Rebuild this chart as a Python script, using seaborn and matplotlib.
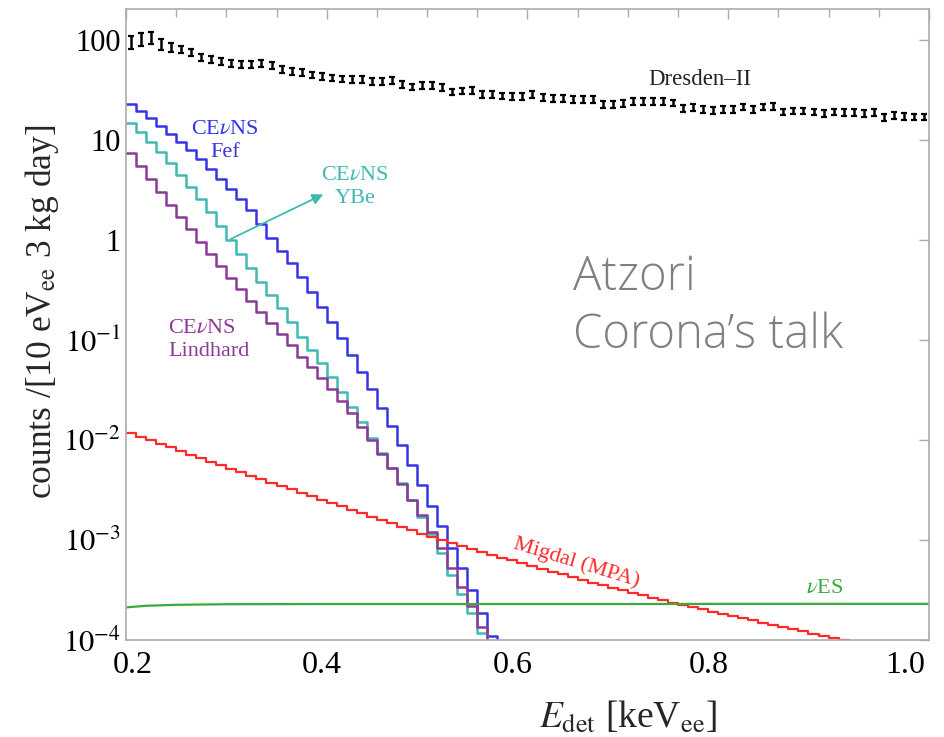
import numpy as np
import matplotlib
matplotlib.use('Agg')
import matplotlib.pyplot as plt
import seaborn as sns
from matplotlib.ticker import FixedLocator, MultipleLocator, FuncFormatter
from matplotlib.transforms import ScaledTranslation

# 10 eV_ee bins (left edges, keV_ee)
E_BINS = np.round(np.arange(0.20, 0.925, 0.01), 2)
# Dresden-II points sit at bin centres
E_DRESDEN = np.round(np.arange(0.205, 1.0, 0.01), 3)

DRESDEN = [96, 102, 106, 91, 85, 81, 76, 67, 64, 61,
           58, 57.5, 57.5, 59, 56, 51, 49, 48, 45, 43,
           42, 41, 40.7, 40.7, 38.9, 38.9, 39.8, 36.3, 34.1, 35.5,
           35.5, 33.6, 30.4, 31.1, 31.6, 28.6, 28.6, 27.7, 27.5, 27.5,
           28.8, 26.7, 26.1, 26.1, 25.7, 25.7, 25.7, 22.9, 22.9, 23.3,
           24.2, 24.2, 24.2, 24.5, 23.6, 20.7, 21.2, 20.4, 20.0, 20.4,
           20.2, 21.5, 20.2, 21.5, 21.9, 19.2, 19.6, 19.6, 19.2, 18.5,
           19.2, 18.8, 18.8, 18.5, 18.8, 16.9, 17.8, 17.4, 17.1, 17.1]
DRESDEN_ERR = [14, 15, 15, 12, 8, 7, 6.5, 5.5, 5, 5,
               4.6, 4.5, 4.5, 4.6, 4.4, 4, 3.9, 3.8, 3.5, 3.4,
               3.3, 3.2, 3.2, 3.2, 3.0, 3.0, 3.1, 2.8, 2.7, 2.8,
               2.8, 2.6, 2.4, 2.4, 2.5, 2.2, 2.2, 2.2, 2.1, 2.1,
               2.2, 2.1, 2.0, 2.0, 2.0, 2.0, 2.0, 1.8, 1.8, 1.8,
               1.9, 1.9, 1.9, 1.9, 1.8, 1.6, 1.6, 1.6, 1.6, 1.6,
               1.6, 1.7, 1.6, 1.7, 1.7, 1.5, 1.5, 1.5, 1.5, 1.4,
               1.5, 1.5, 1.5, 1.4, 1.5, 1.3, 1.4, 1.4, 1.3, 1.3]

CEVNS_FEF = [22.9, 19.5, 16.5, 13.9, 11.6, 9.62, 7.89, 6.41, 5.16, 4.12,
             3.26, 2.55, 1.98, 1.45, 1.06, 0.782, 0.589, 0.430, 0.304, 0.215,
             0.152, 0.106, 0.0708, 0.0482, 0.0324, 0.0210, 0.0139, 8.91e-3, 5.62e-3, 3.55e-3,
             2.20e-3, 1.38e-3, 8.26e-4, 5.21e-4, 3.16e-4, 1.86e-4, 1.10e-4, 6.3e-5]
CEVNS_YBE = [15.0, 12.1, 9.59, 7.53, 5.85, 4.49, 3.40, 2.55, 1.89, 1.39,
             1.00, 0.724, 0.521, 0.383, 0.282, 0.207, 0.152, 0.108, 0.0794, 0.0585,
             0.0424, 0.0302, 0.0215, 0.0152, 0.0106, 7.46e-3, 5.21e-3, 3.69e-3, 2.51e-3, 1.71e-3,
             1.15e-3, 7.36e-4, 4.47e-4, 2.88e-4, 1.85e-4, 1.17e-4, 7.1e-5]
CEVNS_LINDHARD = [7.41, 5.50, 4.07, 3.03, 2.27, 1.70, 1.28, 0.964, 0.728, 0.552,
                  0.421, 0.322, 0.248, 0.192, 0.147, 0.115, 0.0891, 0.0681, 0.0541, 0.0417,
                  0.0324, 0.0247, 0.0186, 0.0136, 0.0100, 7.24e-3, 5.21e-3, 3.63e-3, 2.51e-3, 1.78e-3,
                  1.21e-3, 8.26e-4, 5.21e-4, 3.37e-4, 2.19e-4, 1.36e-4, 8.7e-5]
MIGDAL = [1.175e-2, 1.081e-2, 9.95e-3, 9.16e-3, 8.43e-3, 7.76e-3, 7.14e-3, 6.58e-3, 6.05e-3, 5.57e-3,
          5.13e-3, 4.74e-3, 4.39e-3, 4.06e-3, 3.75e-3, 3.47e-3, 3.21e-3, 2.96e-3, 2.74e-3, 2.54e-3,
          2.34e-3, 2.17e-3, 2.00e-3, 1.85e-3, 1.71e-3, 1.58e-3, 1.47e-3, 1.36e-3, 1.25e-3, 1.16e-3,
          1.07e-3, 1.00e-3, 9.33e-4, 8.71e-4, 8.13e-4, 7.59e-4, 7.11e-4, 6.67e-4, 6.25e-4, 5.86e-4,
          5.50e-4, 5.15e-4, 4.83e-4, 4.53e-4, 4.25e-4, 3.98e-4, 3.75e-4, 3.53e-4, 3.33e-4, 3.13e-4,
          2.95e-4, 2.79e-4, 2.64e-4, 2.50e-4, 2.37e-4, 2.24e-4, 2.13e-4, 2.02e-4, 1.92e-4, 1.83e-4,
          1.74e-4, 1.65e-4, 1.57e-4, 1.49e-4, 1.42e-4, 1.35e-4, 1.28e-4, 1.22e-4, 1.16e-4, 1.10e-4,
          1.05e-4, 9.95e-5, 9.46e-5]

E_NUES = [0.20, 0.22, 0.25, 0.30, 0.40, 0.50, 0.60, 0.70, 0.80, 0.90, 1.00]
NUES = [2.12e-4, 2.20e-4, 2.25e-4, 2.28e-4, 2.29e-4, 2.29e-4, 2.29e-4, 2.29e-4, 2.30e-4, 2.30e-4, 2.30e-4]

X_TICKS = [0.2, 0.4, 0.6, 0.8, 1.0]
Y_TICKS = [1e-4, 1e-3, 1e-2, 1e-1, 1, 10, 100]

BLUE = '#3535e6'
CYAN = '#3fbab2'
PURPLE = '#8c3a98'
RED = '#ff2a2a'
GREEN = '#3aaa3a'
GRID = '#ababab'


def main():
    sns.set_style('white')
    plt.rcParams['font.family'] = ['Liberation Serif', 'DejaVu Serif']
    plt.rcParams['mathtext.fontset'] = 'stix'

    fig = plt.figure(figsize=(9.45, 7.37), dpi=100)
    ax = fig.add_axes([0.1333, 0.1316, 0.8497, 0.8562])
    ax.set_yscale('log')

    # step histograms
    sns.lineplot(x=E_BINS[:len(CEVNS_FEF)], y=CEVNS_FEF, drawstyle='steps-post',
                 color=BLUE, lw=1.8, errorbar=None, ax=ax)
    sns.lineplot(x=E_BINS[:len(CEVNS_YBE)], y=CEVNS_YBE, drawstyle='steps-post',
                 color=CYAN, lw=1.8, errorbar=None, ax=ax)
    sns.lineplot(x=E_BINS[:len(CEVNS_LINDHARD)], y=CEVNS_LINDHARD, drawstyle='steps-post',
                 color=PURPLE, lw=1.8, errorbar=None, ax=ax)
    sns.lineplot(x=E_BINS[:len(MIGDAL)], y=MIGDAL, drawstyle='steps-post',
                 color=RED, lw=1.6, errorbar=None, ax=ax)
    sns.lineplot(x=E_NUES, y=NUES, color=GREEN, lw=1.6, errorbar=None, ax=ax)

    # Dresden-II data
    ax.errorbar(E_DRESDEN, DRESDEN, yerr=DRESDEN_ERR, fmt='none', ecolor='black',
                elinewidth=1.8, capsize=2.2, capthick=1.6)

    ax.set_xlim(0.2, 1.0)
    ax.set_ylim(1e-4, 2.05e2)

    ax.xaxis.set_major_locator(FixedLocator(X_TICKS))
    ax.xaxis.set_minor_locator(MultipleLocator(0.05))
    ax.xaxis.set_major_formatter(FuncFormatter(lambda v, p: f'{v:.1f}'))
    ax.yaxis.set_major_locator(FixedLocator(Y_TICKS))
    ax.yaxis.set_minor_locator(FixedLocator([]))

    def yfmt(v, pos):
        if v >= 1:
            return f'{int(round(v))}'
        return rf'$10^{{{int(round(np.log10(v)))}}}$'
    ax.yaxis.set_major_formatter(FuncFormatter(yfmt))

    ax.tick_params(which='both', direction='in', top=True, right=True,
                   color=GRID, labelcolor='black')
    ax.tick_params(axis='y', labelsize=22)
    ax.tick_params(axis='x', labelsize=23, pad=8)
    ax.tick_params(which='major', length=7, width=1)
    ax.tick_params(which='minor', length=6, width=1)
    for s in ax.spines.values():
        s.set_color(GRID)
        s.set_linewidth(1.2)

    ax.set_xlabel(r'$E_{\rm det}$ [keV$_{\rm ee}$]', fontsize=27, labelpad=14, x=0.625)
    ax.set_ylabel(r'counts /[10 eV$_{\rm ee}$ 3 kg day]', fontsize=25.5, labelpad=2, y=0.52)

    # labels
    ax.text(0.772, 40, 'Dresden–II', fontsize=16.5, ha='center', va='center', color='#222222')
    ax.text(0.2986, 9.8, 'CE$\\nu$NS\nFef', fontsize=16, ha='center', va='center',
            color=BLUE, linespacing=1.25)
    ax.text(0.428, 3.4, 'CE$\\nu$NS\nYBe', fontsize=16, ha='center', va='center',
            color=CYAN, linespacing=1.25)
    ax.text(0.2418, 0.1, 'CE$\\nu$NS\nLindhard', fontsize=16, ha='left', va='center',
            color=PURPLE, linespacing=1.25)
    ax.text(0.649, 6.0e-4, 'Migdal (MPA)', fontsize=16, ha='center', va='center',
            color=RED, rotation=-17, rotation_mode='anchor')
    ax.text(0.896, 3.3e-4, r'$\nu$ES', fontsize=16, ha='center', va='center', color=GREEN)
    ax.annotate('', xy=(0.399, 2.95), xytext=(0.302, 1.0),
                arrowprops=dict(arrowstyle='-|>', color=CYAN, lw=1.3, mutation_scale=16))

    fig.text(573 / 945, 1 - 290 / 737, 'Atzori', fontsize=34, color='#808080',
             family='Open Sans', fontweight='light', va='baseline')
    fig.text(573 / 945, 1 - 348 / 737, 'Corona’s talk', fontsize=34, color='#808080',
             family='Open Sans', fontweight='light', va='baseline')

    # the x tick labels of the original sit slightly compressed towards the centre
    fig.canvas.draw()
    shifts = [7, -5, -15, -19, -24]
    for tick, dx in zip(ax.xaxis.get_major_ticks(), shifts):
        lab = tick.label1
        lab.set_transform(lab.get_transform() + ScaledTranslation(dx / 100, 0, fig.dpi_scale_trans))

    fig.savefig('out.png', dpi=100)


if __name__ == '__main__':
    main()
